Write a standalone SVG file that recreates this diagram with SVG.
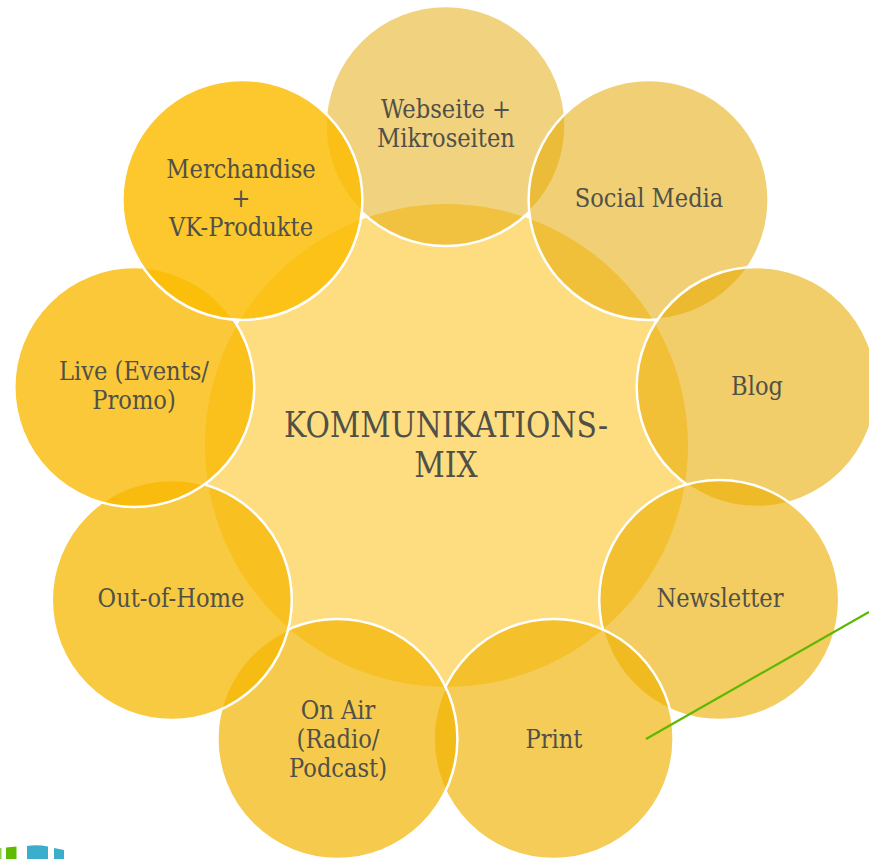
<svg xmlns="http://www.w3.org/2000/svg" width="869" height="859" viewBox="0 0 869 859">
<style>
.o{stroke:#ffffff;stroke-width:2.5}
.t{font-family:"DejaVu Serif","Liberation Serif",serif;font-size:26px;fill:#505048;text-anchor:middle}
.c{font-family:"DejaVu Serif","Liberation Serif",serif;font-size:35px;fill:#505048;text-anchor:middle}
</style>
<rect width="869" height="859" fill="#ffffff"/>
<g id="center">
<circle cx="446.5" cy="445.5" r="241.5" fill="#fedd80"/>
<text class="c" transform="translate(446,0) scale(0.85 1)"><tspan x="0" y="437">KOMMUNIKATIONS-</tspan><tspan x="0" y="477">MIX</tspan></text>
</g>
<g id="webseite">
<circle class="o" cx="445.5" cy="126" r="120" fill="#e3a600" fill-opacity="0.50"/>
<text class="t" transform="translate(446,0) scale(0.87 1)"><tspan x="0" y="118">Webseite +</tspan><tspan x="0" y="147">Mikroseiten</tspan></text>
</g>
<g id="social-media">
<circle class="o" cx="648.6" cy="199.9" r="120" fill="#e6a900" fill-opacity="0.54"/>
<text class="t" transform="translate(649,207) scale(0.87 1)">Social Media</text>
</g>
<g id="blog">
<circle class="o" cx="756.7" cy="387.1" r="120" fill="#e9ab00" fill-opacity="0.58"/>
<text class="t" transform="translate(757,395) scale(0.87 1)">Blog</text>
</g>
<g id="newsletter">
<circle class="o" cx="719.2" cy="600" r="120" fill="#ecae00" fill-opacity="0.62"/>
<text class="t" transform="translate(720,607) scale(0.87 1)">Newsletter</text>
</g>
<g id="print">
<circle class="o" cx="553.6" cy="739" r="120" fill="#efb100" fill-opacity="0.66"/>
<text class="t" transform="translate(554,748) scale(0.87 1)">Print</text>
</g>
<g id="on-air">
<circle class="o" cx="337.4" cy="739" r="120" fill="#f2b400" fill-opacity="0.70"/>
<text class="t" transform="translate(338,0) scale(0.87 1)"><tspan x="0" y="719">On Air</tspan><tspan x="0" y="748">(Radio/</tspan><tspan x="0" y="777">Podcast)</tspan></text>
</g>
<g id="out-of-home">
<circle class="o" cx="171.8" cy="600" r="120" fill="#f5b700" fill-opacity="0.74"/>
<text class="t" transform="translate(171,607) scale(0.87 1)">Out-of-Home</text>
</g>
<g id="live">
<circle class="o" cx="134.3" cy="387.1" r="120" fill="#f8b900" fill-opacity="0.78"/>
<text class="t" transform="translate(134,0) scale(0.87 1)"><tspan x="0" y="380">Live (Events/</tspan><tspan x="0" y="409">Promo)</tspan></text>
</g>
<g id="merchandise">
<circle class="o" cx="242.4" cy="199.9" r="120" fill="#fbbc00" fill-opacity="0.82"/>
<text class="t" transform="translate(241,0) scale(0.87 1)"><tspan x="0" y="178">Merchandise</tspan><tspan x="0" y="207">+</tspan><tspan x="0" y="236">VK-Produkte</tspan></text>
</g>
<g id="connectors">
<line x1="646" y1="739" x2="869" y2="612" stroke="#5cb800" stroke-width="2.2"/>
</g>
<g id="logo">
<rect x="0" y="848" width="1.5" height="11" fill="#8ccf4a"/>
<path d="M6 847.5 L16.5 846.5 L16.5 859 L6 859 Z" fill="#5dbb00"/>
<path d="M27 846 Q37 844.5 48 846.5 L48 859 L27 859 Z" fill="#3aaecb"/>
<path d="M54 848 L64 850 L64 859 L54 859 Z" fill="#3aaecb"/>
</g>
</svg>
